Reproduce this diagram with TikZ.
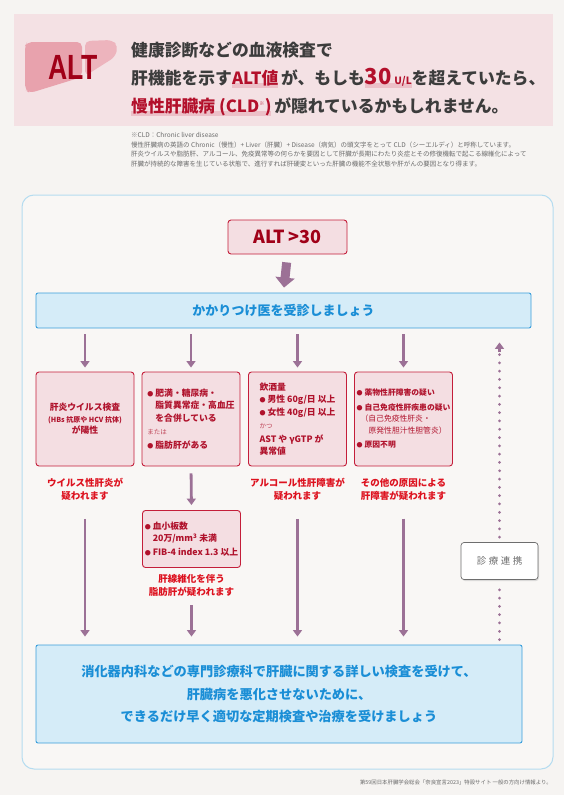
\documentclass[tikz,border=0pt]{standalone}
\usepackage{fontspec}
\setmainfont{Noto Sans CJK JP}
\newfontfamily\altfont{Liberation Sans}
\usetikzlibrary{arrows.meta,shadows}
\definecolor{bgc}{HTML}{F6F4F2}
\definecolor{hdrpink}{HTML}{F4E1E4}
\definecolor{liverpink}{HTML}{E8A2AD}
\definecolor{liverlight}{HTML}{EDB4BD}
\definecolor{altred}{HTML}{A00018}
\definecolor{txtgray}{HTML}{3C3C3C}
\definecolor{hlred}{HTML}{B3102B}
\definecolor{hlpink}{HTML}{ECC0C8}
\definecolor{notegray}{HTML}{6A6A6A}
\definecolor{panelline}{HTML}{B5DCF0}
\definecolor{panelfill}{HTML}{F9F7F5}
\definecolor{boxfill}{HTML}{F4DEE2}
\definecolor{boxline}{HTML}{C41E3A}
\definecolor{boxtext}{HTML}{B0122C}
\definecolor{softred}{HTML}{C0485A}
\definecolor{labred}{HTML}{DD121F}
\definecolor{arrowc}{HTML}{9C7196}
\definecolor{bluefill}{HTML}{D5ECF8}
\definecolor{blueline}{HTML}{3A9EDB}
\definecolor{bluetext}{HTML}{1A8ED6}
\definecolor{grayline}{HTML}{6E6E6E}
\newsavebox\hlbox
\newcommand\hlmark[1]{\sbox\hlbox{#1}\rlap{\color{hlpink}\rule[-3.5pt]{\wd\hlbox}{4.5pt}}\usebox\hlbox}
\newcommand\bul{{\fontsize{6}{6}\selectfont ●}\hspace{2pt}}
\tikzset{
  redbox/.style={draw=boxline, fill=boxfill, line width=0.9pt, rounded corners=3pt,
    minimum width=98pt, minimum height=94pt, inner sep=0pt, text=boxtext, align=left,
    font=\bfseries\fontsize{8.8}{12.5}\selectfont},
  altbox/.style={draw=boxline, fill=boxfill, line width=0.9pt, rounded corners=3pt,
    minimum width=119pt, minimum height=34pt, inner sep=0pt, text=altred,
    font=\bfseries\fontsize{18}{20}\selectfont},
  bluebox/.style={draw=blueline, fill=bluefill, line width=0.9pt, rounded corners=2pt,
    inner sep=0pt, text=bluetext, align=center},
  lab/.style={text=labred, align=center, inner sep=0pt,
    font=\bfseries\fontsize{9.5}{13}\selectfont},
  flowarrow/.style={draw=arrowc, line width=2.8pt, -{Triangle[width=9pt,length=6.5pt]}},
  bigarrow/.style={draw=arrowc, line width=9pt, -{Triangle[width=19pt,length=10pt]}},
  dotline/.style={draw=arrowc, line width=3pt, line cap=round, dash pattern=on 0pt off 8.3pt},
  renkeibox/.style={draw=grayline, fill=white, line width=0.7pt, rounded corners=3pt,
    minimum width=77pt, minimum height=37pt, inner sep=0pt, text=grayline,
    font=\fontsize{9.5}{11}\selectfont, drop shadow={shadow xshift=1pt, shadow yshift=-1.5pt, fill=black!25}},
}
\begin{document}
\begin{tikzpicture}[x=1pt,y=-1pt]
\useasboundingbox (0,0) rectangle (564,795);
\fill[bgc] (0,0) rectangle (564,795);
% header band
\fill[hdrpink] (14,14) rectangle (553,126);
% liver logo
\fill[liverpink, rounded corners=5pt] (25,46) -- (27,42) -- (82,42) -- (82,77) -- (30,93) -- (25,90) -- cycle;
\fill[liverlight, rounded corners=5pt] (85,41) -- (112,40) -- (118,46) -- (115,57) -- (85,76) -- cycle;
\node[text=altred, inner sep=0pt, font=\altfont\bfseries\fontsize{35}{35}\selectfont] (altlogo) at (73,67) {\scalebox{0.76}[1]{ALT}};
% header text
\node[anchor=base west, inner sep=0pt, text=txtgray, font=\bfseries\fontsize{16.8}{20}\selectfont] (h1) at (131,56) {健康診断などの血液検査で};
\node[anchor=base west, inner sep=0pt, text=txtgray, font=\bfseries\fontsize{16.8}{20}\selectfont] (h2) at (131,84)
 {肝機能を示す\hlmark{\color{hlred}ALT値}\,が、もしも\hlmark{\color{hlred}{\fontsize{22}{22}\selectfont 30}\,{\fontsize{10}{10}\selectfont U/L}}を超えていたら、};
\node[anchor=base west, inner sep=0pt, text=txtgray, font=\bfseries\fontsize{16.8}{20}\selectfont] (h3) at (131,112)
 {\hlmark{\color{hlred}慢性肝臓病 (CLD\textsuperscript{\tiny ※})}\,が隠れているかもしれません。};
% note
\node[anchor=north west, inner sep=0pt, text=notegray, align=left, font=\fontsize{6.5}{9.8}\selectfont] (note) at (131,132)
 {※CLD：Chronic liver disease\\
 慢性肝臓病の英語の Chronic（慢性）+ Liver（肝臓）+ Disease（病気）の頭文字をとって CLD（シーエルディ）と呼称しています。\\
 肝炎ウイルスや脂肪肝、アルコール、免疫異常等の何らかを要因として肝臓が長期にわたり炎症とその修復機転で起こる線維化によって\\
 肝臓が持続的な障害を生じている状態で、進行すれば肝硬変といった肝臓の機能不全状態や肝がんの要因となり得ます。};
% panel
\draw[draw=panelline, fill=panelfill, line width=1pt, rounded corners=12pt] (22,195) rectangle (553,769);
% nodes
\node[altbox] (alt) at (287.5,237) {ALT >30};
\node[bluebox, minimum width=495pt, minimum height=35pt, font=\bfseries\fontsize{13}{15}\selectfont] (kakari) at (283.5,310.5) {かかりつけ医を受診しましょう};
\node[redbox, align=center] (b1) at (85,419) {肝炎ウイルス検査\\[-1pt]{\fontsize{7}{9}\selectfont (HBs 抗原や HCV 抗体)}\\[-1pt]が陽性};
\node[redbox] (b2) at (191,419) {\bul 肥満・糖尿病・\\\hspace*{8pt}脂質異常症・高血圧\\\hspace*{8pt}を合併している\\[1pt]{\fontsize{6.5}{8}\selectfont\mdseries\color{softred}または}\\[1pt]\bul 脂肪肝がある};
\node[redbox] (b3) at (297.5,419) {飲酒量\\\bul 男性 60g/日 以上\\\bul 女性 40g/日 以上\\[1pt]{\fontsize{6.5}{8}\selectfont\mdseries\color{softred}かつ}\\[1pt]AST や γGTP が\\異常値};
\node[redbox, font=\bfseries\fontsize{7.8}{11.5}\selectfont] (b4) at (403.5,419) {\bul 薬物性肝障害の疑い\\[3pt]\bul 自己免疫性肝疾患の疑い\\{\mdseries\hspace*{4pt}（自己免疫性肝炎・}\\{\mdseries\hspace*{12pt}原発性胆汁性胆管炎）}\\[3pt]\bul 原因不明};
\node[lab] (l1) at (85,489.5) {ウイルス性肝炎が\\疑われます};
\node[lab] (l3) at (297.5,489.5) {アルコール性肝障害が\\疑われます};
\node[lab] (l4) at (403.5,489.5) {その他の原因による\\肝障害が疑われます};
\node[redbox, minimum height=57pt] (b5) at (191.5,539) {\bul 血小板数\\\hspace*{8pt}20万/mm\textsuperscript{3} 未満\\[1pt]\bul FIB-4 index 1.3 以上};
\node[lab] (l5) at (191.5,585) {肝線維化を伴う\\脂肪肝が疑われます};
\node[bluebox, minimum width=486pt, minimum height=98pt, font=\bfseries\fontsize{13.2}{22.5}\selectfont] (bot) at (279,694)
 {消化器内科などの専門診療科で肝臓に関する詳しい検査を受けて、\\肝臓病を悪化させないために、\\できるだけ早く適切な定期検査や治療を受けましょう};
\node[renkeibox] (renkei) at (499.5,561) {診\hspace{2.5pt}療\hspace{2.5pt}連\hspace{2.5pt}携};
% arrows
\draw[bigarrow, shorten <=8pt, shorten >=5pt] (alt.south) -- (kakari.north);
\foreach \b in {b1,b2,b3,b4}{
  \draw[flowarrow, shorten <=6pt, shorten >=4pt] (kakari.south -| \b.north) -- (\b.north);
}
\draw[flowarrow, shorten <=7pt, shorten >=5pt] (b2.south) -- (b5.north);
\foreach \l in {l1,l3,l4}{
  \draw[flowarrow, shorten <=18pt, shorten >=8pt] (\l.south) -- (bot.north -| \l.south);
}
\draw[flowarrow, shorten <=9pt, shorten >=8pt] (l5.south) -- (bot.north -| l5.south);
\draw[dotline, shorten <=5pt, shorten >=5pt] (bot.north -| renkei.south) -- (renkei.south);
\draw[dotline, shorten <=5pt, shorten >=22pt] (renkei.north) -- (kakari.south -| renkei.north);
\draw[draw=arrowc, line width=2.6pt, -{Triangle[width=9pt,length=6.5pt]}, shorten <=190pt, shorten >=14pt] (renkei.north) -- (kakari.south -| renkei.north);
% footer
\node[anchor=east, inner sep=0pt, text=notegray, font=\fontsize{5.4}{6}\selectfont] (foot) at (552,782) {第59回日本肝臓学会総会「奈良宣言2023」特設サイト 一般の方向け情報より。};
\end{tikzpicture}
\end{document}
